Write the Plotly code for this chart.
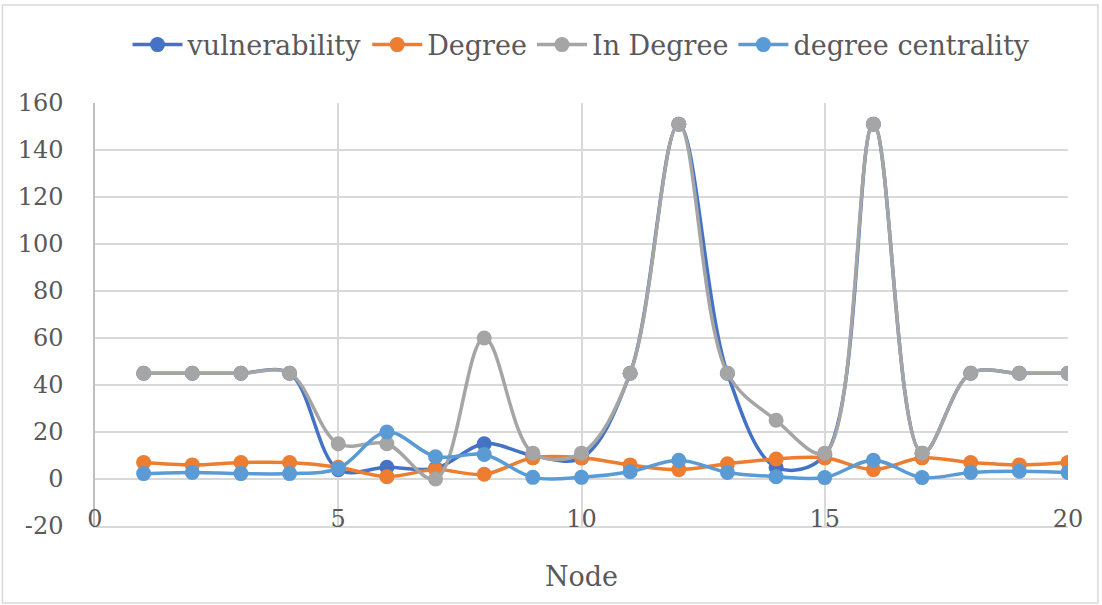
import plotly.graph_objects as go

# Node index and the four measures per node
nodes = list(range(1, 21))
vulnerability = [45, 45, 45, 45, 4, 5, 4.5, 15, 10, 9, 45, 151, 45, 5, 10, 151, 11, 45, 45, 45]
degree = [7, 6, 7, 7, 5, 1, 4, 2, 9, 9, 6, 4, 6.5, 8.5, 9, 4, 9, 7, 6, 7]
in_degree = [45, 45, 45, 45, 15, 15, 0, 60, 11, 11, 45, 151, 45, 25, 11, 151, 11, 45, 45, 45]
degree_centrality = [2.3, 2.8, 2.3, 2.3, 4.5, 20, 9.5, 10.4, 0.7, 0.7, 3.1, 8, 2.8, 1, 0.6, 8, 0.6, 2.8, 3.3, 2.8]

x_ticks = [0, 5, 10, 15, 20]
y_ticks = [-20, 0, 20, 40, 60, 80, 100, 120, 140, 160]

series = [
    ("vulnerability", vulnerability, "#4472C4"),
    ("Degree", degree, "#ED7D31"),
    ("In Degree", in_degree, "#A5A5A5"),
    ("degree centrality", degree_centrality, "#5B9BD5"),
]

FONT = "DejaVu Serif"
TEXT = "#595959"
GRID = "#D9D9D9"
TICK_SIZE = 24
LEGEND_SIZE = 27

fig = go.Figure()
for name, vals, color in series:
    fig.add_trace(go.Scatter(
        x=nodes, y=vals, name=name, mode="lines+markers",
        line=dict(color=color, width=3.5, shape="spline", smoothing=1),
        marker=dict(color=color, size=15),
    ))

fig.update_layout(
    width=1102, height=605,
    margin=dict(l=95, r=34, t=103, b=79),
    paper_bgcolor="white", plot_bgcolor="white",
    font=dict(family=FONT, color=TEXT, size=TICK_SIZE),
    showlegend=True,
    legend=dict(
        orientation="h", x=0.5, xanchor="center", y=1.137, yanchor="middle",
        font=dict(family=FONT, size=LEGEND_SIZE, color=TEXT),
        itemwidth=50, bgcolor="rgba(0,0,0,0)",
    ),
    xaxis=dict(
        range=[0, 20], tickvals=x_ticks,
        showgrid=True, gridcolor=GRID, gridwidth=1.5,
        zeroline=False, showline=True, linecolor=GRID, linewidth=1.5,
        ticks="", showticklabels=False,
        title=dict(text="Node", font=dict(family=FONT, size=LEGEND_SIZE, color=TEXT), standoff=40),
    ),
    # tick labels of the node axis sit just above the bottom edge of the plot
    xaxis2=dict(
        range=[0, 20], tickvals=x_ticks, ticktext=[str(v) for v in x_ticks],
        overlaying="x", matches="x", side="top", anchor="free", position=0,
        showgrid=False, zeroline=False, showline=False, ticks="",
        ticklabelstandoff=-6,
        tickfont=dict(family=FONT, size=TICK_SIZE, color=TEXT),
    ),
    yaxis=dict(
        range=[-20, 160], tickvals=y_ticks, ticktext=[str(v) for v in y_ticks],
        showgrid=True, gridcolor=GRID, gridwidth=1.5,
        zeroline=True, zerolinecolor=GRID, zerolinewidth=1.5,
        showline=True, linecolor="#BFBFBF", linewidth=1.5,
        ticks="", ticklabelstandoff=25,
        tickfont=dict(family=FONT, size=TICK_SIZE, color=TEXT),
    ),
    shapes=[dict(
        type="rect", xref="paper", yref="paper",
        x0=-0.0951, x1=1.0308, y0=-0.182, y1=1.2317,
        line=dict(color=GRID, width=1.5), fillcolor="rgba(0,0,0,0)", layer="below",
    )],
)

# invisible carrier so the label axis is laid out
fig.add_trace(go.Scatter(x=[0, 20], y=[None, None], xaxis="x2", showlegend=False,
                         hoverinfo="skip", mode="lines"))

fig.write_html("out.html")
